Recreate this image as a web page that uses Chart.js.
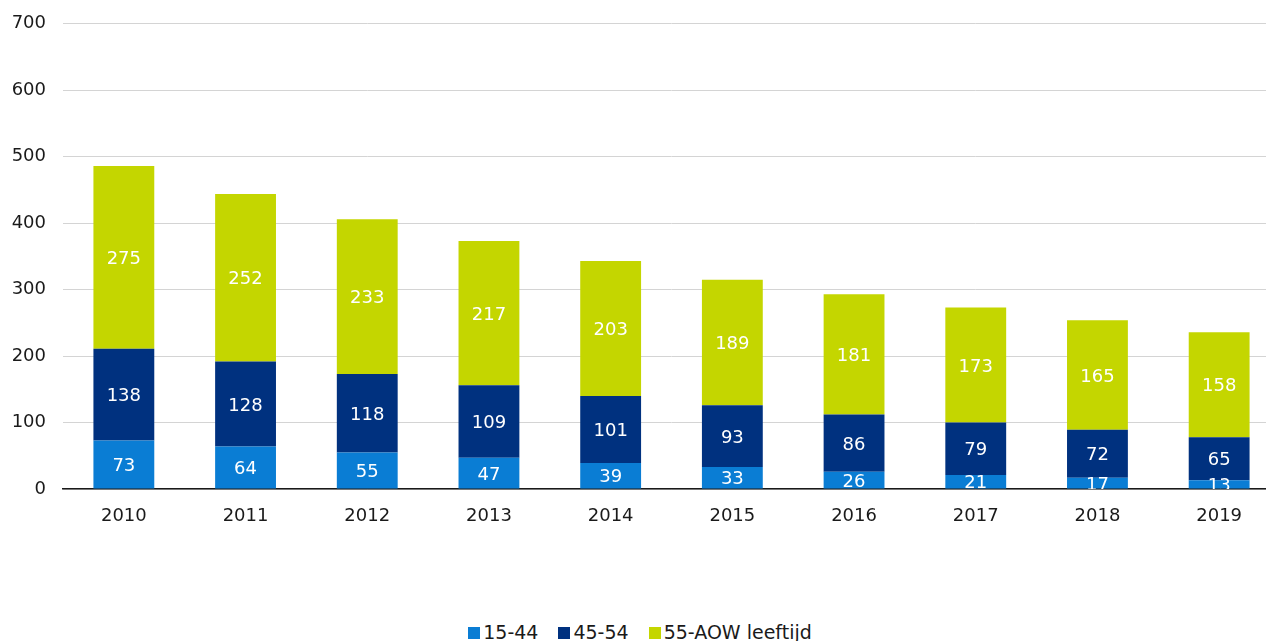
<!DOCTYPE html>
<html>
<head>
<meta charset="utf-8">
<script src="https://cdn.jsdelivr.net/npm/chart.js@4.4.0/dist/chart.umd.min.js"></script>
<style>
  html, body { margin: 0; padding: 0; background: #fff; overflow: hidden; width: 1266px; height: 641px; }
  #wrap { position: relative; width: 1280px; height: 560px; margin-top: -4px; }
  #legend { position: absolute; top: 621px; left: 0; width: 1280px; text-align: center;
            font-family: Verdana, "DejaVu Sans", sans-serif; font-size: 19px; color: #1a1a1a; line-height: 22px; white-space: nowrap; }
  #legend span.item { display: inline-block; margin: 0 10px; }
  #legend span.box { display: inline-block; width: 12px; height: 12px; margin-right: 3px; vertical-align: 0px; }
</style>
</head>
<body>
<div id="wrap"><canvas id="chart" width="1280" height="560"></canvas></div>
<div id="legend"></div>
<script>
const years = ['2010', '2011', '2012', '2013', '2014', '2015', '2016', '2017', '2018', '2019'];
const seriesNames = ['15-44', '45-54', '55-AOW leeftijd'];
const young = [73, 64, 55, 47, 39, 33, 26, 21, 17, 13];
const middle = [138, 128, 118, 109, 101, 93, 86, 79, 72, 65];
const older = [275, 252, 233, 217, 203, 189, 181, 173, 165, 158];
const yTicks = [0, 100, 200, 300, 400, 500, 600, 700];
const colors = ['#0a7dd4', '#00317f', '#c4d600'];

const font = { family: 'Verdana, "DejaVu Sans", sans-serif', size: 18 };

// labels midden in elk segment, afgeknipt op het plotvlak
const segmentLabels = {
    id: 'segmentLabels',
    afterDatasetsDraw(chart) {
        const ctx = chart.ctx;
        const a = chart.chartArea;
        ctx.save();
        ctx.beginPath();
        ctx.rect(a.left, a.top, a.right - a.left, a.bottom - a.top);
        ctx.clip();
        ctx.fillStyle = '#ffffff';
        ctx.font = `${font.size}px ${font.family}`;
        ctx.textAlign = 'center';
        ctx.textBaseline = 'middle';
        chart.data.datasets.forEach((ds, i) => {
            chart.getDatasetMeta(i).data.forEach((bar, j) => {
                const mid = (bar.y + bar.base) / 2;
                ctx.fillText(String(ds.data[j]), bar.x, mid + 2);
            });
        });
        ctx.restore();
    }
};

new Chart(document.getElementById('chart'), {
    type: 'bar',
    data: {
        labels: years,
        datasets: [young, middle, older].map((d, i) => ({
            label: seriesNames[i],
            data: d,
            backgroundColor: colors[i],
            borderWidth: 0,
            categoryPercentage: 1,
            barPercentage: 0.5
        }))
    },
    options: {
        responsive: false,
        animation: false,
        layout: { padding: { top: 19, right: 0, left: 0, bottom: 0 } },
        plugins: { legend: { display: false }, tooltip: { enabled: false } },
        scales: {
            x: {
                stacked: true,
                z: 1,
                grid: { display: false, drawTicks: false },
                border: { display: true, color: '#1a1a1a', width: 1.5 },
                ticks: { color: '#1a1a1a', font: font, padding: 17 },
                afterFit(s) { s.height = 67; }
            },
            y: {
                stacked: true,
                min: 0,
                max: 700,
                afterBuildTicks(s) { s.ticks = yTicks.map(v => ({ value: v })); },
                grid: { color: '#d4d4d4', lineWidth: 1, drawTicks: false },
                border: { display: false },
                ticks: { color: '#1a1a1a', font: font, padding: 17 },
                afterFit(s) { s.width = 63; }
            }
        }
    },
    plugins: [segmentLabels]
});

document.getElementById('legend').innerHTML = seriesNames.map((n, i) =>
    `<span class="item"><span class="box" style="background:${colors[i]}"></span>${n}</span>`).join('');
</script>
</body>
</html>
